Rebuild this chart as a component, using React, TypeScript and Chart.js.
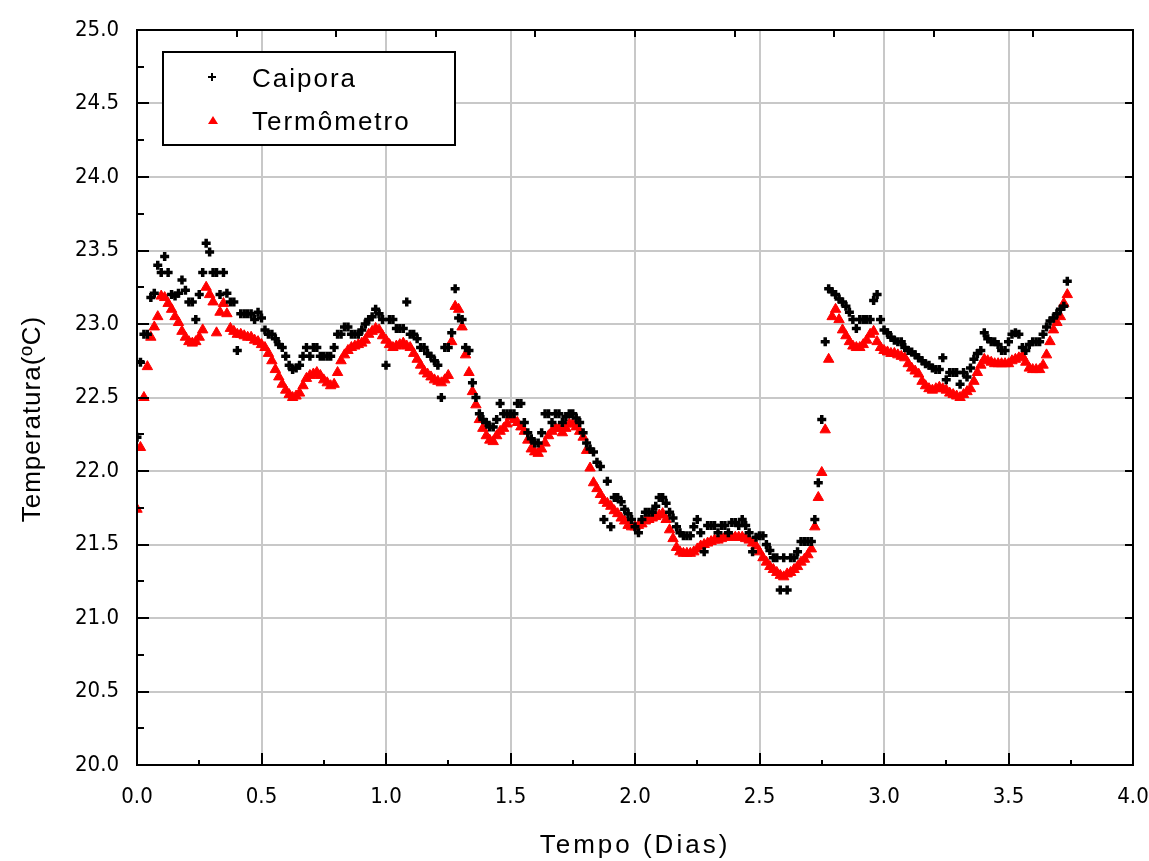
import { useEffect, useRef } from "react";
import { Chart, registerables } from "chart.js";

Chart.register(...registerables);

// Sampling interval of the data logger (20 minutes, in days)
const SAMPLE_STEP_DAYS = 1 / 72;

const SERIES_NAMES = ["Caipora", "Termômetro"];

const caipora = [
  22.23, 22.74, 22.93, 22.93, 23.18, 23.21, 23.40, 23.35, 23.46, 23.35,
  23.20, 23.19, 23.21, 23.30, 23.23, 23.15, 23.15, 23.03, 23.20, 23.35,
  23.55, 23.49, 23.35, 23.35, 23.20, 23.35, 23.21, 23.15, 23.15, 22.82,
  23.07, 23.07, 23.07, 23.07, 23.03, 23.08, 23.04, 22.96, 22.93, 22.93,
  22.90, 22.86, 22.84, 22.78, 22.72, 22.69, 22.70, 22.72, 22.78, 22.84,
  22.78, 22.84, 22.84, 22.78, 22.78, 22.78, 22.78, 22.84, 22.93, 22.93,
  22.98, 22.98, 22.93, 22.93, 22.93, 22.96, 23.00, 23.03, 23.05, 23.10,
  23.07, 23.03, 22.72, 23.03, 23.03, 22.97, 22.97, 22.97, 23.15, 22.93,
  22.93, 22.90, 22.84, 22.84, 22.80, 22.78, 22.75, 22.72, 22.50, 22.84,
  22.84, 22.94, 23.24, 23.04, 23.03, 22.84, 22.82, 22.60, 22.50, 22.39,
  22.35, 22.33, 22.30, 22.30, 22.35, 22.46, 22.39, 22.39, 22.39, 22.39,
  22.46, 22.46, 22.33, 22.26, 22.22, 22.19, 22.19, 22.26, 22.39, 22.39,
  22.33, 22.39, 22.39, 22.33, 22.37, 22.39, 22.39, 22.36, 22.33, 22.26,
  22.19, 22.15, 22.13, 22.06, 22.03, 21.67, 21.93, 21.62, 21.82, 21.82,
  21.79, 21.74, 21.71, 21.67, 21.62, 21.58, 21.67, 21.72, 21.72, 21.72,
  21.76, 21.82, 21.82, 21.78, 21.72, 21.68, 21.62, 21.58, 21.56, 21.56,
  21.56, 21.62, 21.67, 21.58, 21.45, 21.63, 21.63, 21.63, 21.58, 21.63,
  21.63, 21.58, 21.65, 21.65, 21.63, 21.67, 21.63, 21.58, 21.45, 21.55,
  21.56, 21.56, 21.50, 21.46, 21.41, 21.41, 21.19, 21.41, 21.19, 21.41,
  21.41, 21.45, 21.52, 21.52, 21.52, 21.52, 21.67, 21.92, 22.35, 22.88,
  23.24, 23.22, 23.20, 23.17, 23.15, 23.12, 23.08, 23.03, 22.97, 23.03,
  23.03, 23.03, 23.03, 23.16, 23.20, 23.03, 22.96, 22.94, 22.91, 22.89,
  22.88, 22.88, 22.84, 22.82, 22.81, 22.79, 22.77, 22.75, 22.73, 22.72,
  22.70, 22.69, 22.69, 22.77, 22.62, 22.67, 22.67, 22.67, 22.59, 22.67,
  22.64, 22.70, 22.76, 22.80, 22.82, 22.94, 22.90, 22.88, 22.88, 22.86,
  22.82, 22.82, 22.88, 22.93, 22.94, 22.93, 22.84, 22.82, 22.86, 22.88,
  22.88, 22.88, 22.93, 22.98, 23.02, 23.04, 23.07, 23.10, 23.12, 23.29,
];

const termometro = [
  21.74, 22.16, 22.50, 22.71, 22.91, 22.98, 23.05, 23.19, 23.18, 23.14,
  23.10, 23.05, 23.01, 22.95, 22.91, 22.88, 22.87, 22.88, 22.91, 22.96,
  23.25, 23.20, 23.15, 22.94, 23.08, 23.14, 23.07, 22.97, 22.95, 22.93,
  22.93, 22.92, 22.91, 22.91, 22.89, 22.88, 22.86, 22.84, 22.80, 22.75,
  22.69, 22.64, 22.59, 22.55, 22.52, 22.50, 22.51, 22.53, 22.58, 22.63,
  22.65, 22.66, 22.67, 22.65, 22.62, 22.60, 22.58, 22.59, 22.67, 22.75,
  22.79, 22.82, 22.84, 22.85, 22.86, 22.87, 22.89, 22.93, 22.95, 22.97,
  22.96, 22.92, 22.89, 22.86, 22.84, 22.85, 22.86, 22.87, 22.85, 22.84,
  22.80, 22.76, 22.72, 22.68, 22.66, 22.64, 22.62, 22.61, 22.60, 22.62,
  22.65, 22.88, 23.12, 23.10, 22.98, 22.79, 22.67, 22.54, 22.45, 22.35,
  22.29, 22.24, 22.21, 22.20, 22.24, 22.27, 22.29, 22.32, 22.37, 22.35,
  22.33, 22.30, 22.27, 22.21, 22.15, 22.13, 22.12, 22.15, 22.19, 22.24,
  22.27, 22.29, 22.29, 22.26, 22.29, 22.32, 22.32, 22.30, 22.27, 22.23,
  22.14, 22.02, 21.92, 21.88, 21.84, 21.80, 21.78, 21.76, 21.73, 21.71,
  21.68, 21.66, 21.63, 21.62, 21.62, 21.63, 21.64, 21.66, 21.67, 21.68,
  21.69, 21.70, 21.71, 21.67, 21.60, 21.54, 21.48, 21.45, 21.44, 21.44,
  21.44, 21.45, 21.47, 21.49, 21.50, 21.51, 21.52, 21.53, 21.53, 21.54,
  21.55, 21.55, 21.55, 21.55, 21.55, 21.55, 21.54, 21.53, 21.51, 21.49,
  21.45, 21.41, 21.38, 21.35, 21.33, 21.31, 21.29, 21.28, 21.30, 21.31,
  21.33, 21.35, 21.38, 21.40, 21.43, 21.47, 21.62, 21.82, 21.99, 22.28,
  22.76, 23.05, 23.10, 23.03, 22.96, 22.92, 22.88, 22.85, 22.84, 22.84,
  22.86, 22.89, 22.93, 22.95, 22.88, 22.84, 22.82, 22.81, 22.80, 22.80,
  22.79, 22.78, 22.77, 22.73, 22.70, 22.68, 22.66, 22.61, 22.58, 22.56,
  22.55, 22.56, 22.57, 22.56, 22.55, 22.53, 22.52, 22.51, 22.50, 22.52,
  22.54, 22.56, 22.61, 22.67, 22.72, 22.76, 22.75, 22.74, 22.73, 22.73,
  22.73, 22.73, 22.73, 22.75, 22.76, 22.77, 22.78, 22.74, 22.70, 22.69,
  22.69, 22.69, 22.72, 22.79, 22.88, 22.96, 23.01, 23.05, 23.14, 23.20,
];

const X_MIN = 0;
const X_MAX = 4;
const X_STEP = 0.5;
const X_MINOR_STEP = 0.25;
const X_TOP_STEP = 0.4;
const Y_MIN = 20;
const Y_MAX = 25;
const Y_STEP = 0.5;
const Y_MINOR_STEP = 0.25;

const X_TITLE = "Tempo (Dias)";
const Y_TITLE = "Temperatura(ºC)";

const FONT_FAMILY = '"Liberation Sans Narrow", "DejaVu Sans Condensed", "Liberation Sans", Arial, sans-serif';
const TEXT_FONT = '"Liberation Sans", Arial, sans-serif';

const toPoints = (values: number[]) =>
  values.map((v, i) => ({ x: i * SAMPLE_STEP_DAYS, y: v }));

const framePlugin = {
  id: "framePlugin",
  afterDraw(chart: any) {
    const ctx: CanvasRenderingContext2D = chart.ctx;
    const { left, right, top, bottom } = chart.chartArea;
    const xs = chart.scales.x;
    const ys = chart.scales.y;
    ctx.save();
    ctx.strokeStyle = "#000";
    ctx.lineWidth = 2;
    ctx.beginPath();
    // bottom ticks (inward)
    for (let k = 0; k <= (X_MAX - X_MIN) / X_MINOR_STEP + 1e-6; k++) {
      const v = X_MIN + k * X_MINOR_STEP;
      const px = Math.round(xs.getPixelForValue(v));
      const len = k % 2 === 0 ? 12 : 5;
      ctx.moveTo(px, bottom);
      ctx.lineTo(px, bottom - len);
    }
    // top ticks
    for (let k = 1; k * X_TOP_STEP < X_MAX - 1e-6; k++) {
      const px = Math.round(xs.getPixelForValue(X_MIN + k * X_TOP_STEP));
      ctx.moveTo(px, top);
      ctx.lineTo(px, top + 7);
    }
    // left ticks
    for (let k = 0; k <= (Y_MAX - Y_MIN) / Y_MINOR_STEP + 1e-6; k++) {
      const v = Y_MIN + k * Y_MINOR_STEP;
      const py = Math.round(ys.getPixelForValue(v));
      const len = k % 2 === 0 ? 12 : 7;
      ctx.moveTo(left, py);
      ctx.lineTo(left + len, py);
    }
    // right ticks
    for (let k = 0; k <= (Y_MAX - Y_MIN) / Y_STEP + 1e-6; k++) {
      const py = Math.round(ys.getPixelForValue(Y_MIN + k * Y_STEP));
      ctx.moveTo(right, py);
      ctx.lineTo(right - 8, py);
    }
    ctx.stroke();
    ctx.strokeRect(left, top, right - left, bottom - top);

    // legend
    const lx = left + 26;
    const ly = top + 22;
    const lw = 292;
    const lh = 93;
    ctx.fillStyle = "#fff";
    ctx.fillRect(lx, ly, lw, lh);
    ctx.strokeRect(lx, ly, lw, lh);
    // plus marker
    ctx.beginPath();
    ctx.lineWidth = 2;
    ctx.moveTo(lx + 45, ly + 25);
    ctx.lineTo(lx + 53, ly + 25);
    ctx.moveTo(lx + 49, ly + 21);
    ctx.lineTo(lx + 49, ly + 29);
    ctx.stroke();
    // triangle marker
    ctx.fillStyle = "#ff0000";
    ctx.beginPath();
    ctx.moveTo(lx + 50, ly + 64);
    ctx.lineTo(lx + 55, ly + 72);
    ctx.lineTo(lx + 45, ly + 72);
    ctx.closePath();
    ctx.fill();
    ctx.fillStyle = "#000";
    ctx.font = `26px ${TEXT_FONT}`;
    (ctx as any).letterSpacing = "2px";
    ctx.textAlign = "left";
    ctx.textBaseline = "alphabetic";
    ctx.fillText(SERIES_NAMES[0], lx + 89, ly + 35);
    ctx.fillText(SERIES_NAMES[1], lx + 89, ly + 78);

    // axis titles
    ctx.font = `26px ${TEXT_FONT}`;
    (ctx as any).letterSpacing = "3px";
    ctx.textAlign = "center";
    ctx.textBaseline = "middle";
    ctx.fillText(X_TITLE, 635, 846);
    ctx.save();
    ctx.translate(33, 419);
    ctx.rotate(-Math.PI / 2);
    (ctx as any).letterSpacing = "1px";
    ctx.fillText(Y_TITLE, 0, 0);
    ctx.restore();
    ctx.restore();
  },
};

export default function App() {
  const canvasRef = useRef<HTMLCanvasElement | null>(null);

  useEffect(() => {
    if (!canvasRef.current) return;
    const chart = new Chart(canvasRef.current, {
      type: "scatter",
      data: {
        datasets: [
          {
            label: SERIES_NAMES[0],
            data: toPoints(caipora),
            pointStyle: "cross",
            pointRadius: 4.5,
            pointBorderWidth: 3.5,
            borderColor: "#000",
            backgroundColor: "#000",
            showLine: false,
          },
          {
            label: SERIES_NAMES[1],
            data: toPoints(termometro),
            pointStyle: "triangle",
            pointRadius: 6,
            pointBorderWidth: 1,
            borderColor: "#ff0000",
            backgroundColor: "#ff0000",
            showLine: false,
          },
        ],
      },
      options: {
        animation: false,
        responsive: false,
        devicePixelRatio: 1,
        layout: { padding: { top: 30, right: 16, left: 0, bottom: 0 } },
        plugins: {
          legend: { display: false },
          tooltip: { enabled: false },
        },
        scales: {
          x: {
            type: "linear",
            min: X_MIN,
            max: X_MAX,
            ticks: {
              stepSize: X_STEP,
              color: "#000",
              font: { family: FONT_FAMILY, size: 22 },
              padding: 19,
              maxRotation: 0,
              callback: (v: any) => Number(v).toFixed(1),
            },
            grid: { color: "#c8c8c8", lineWidth: 2, drawTicks: false },
            border: { display: false },
            afterFit: (scale: any) => {
              scale.height = 96;
              scale.paddingLeft = 0;
              scale.paddingRight = 0;
            },
          },
          y: {
            type: "linear",
            min: Y_MIN,
            max: Y_MAX,
            ticks: {
              stepSize: Y_STEP,
              color: "#000",
              font: { family: FONT_FAMILY, size: 22 },
              padding: 18,
              callback: (v: any) => Number(v).toFixed(1),
            },
            grid: { color: "#c8c8c8", lineWidth: 2, drawTicks: false },
            border: { display: false },
            afterFit: (scale: any) => {
              scale.width = 137;
              scale.paddingTop = 0;
              scale.paddingBottom = 0;
            },
          },
        },
      },
      plugins: [framePlugin],
    });
    return () => chart.destroy();
  }, []);

  return (
    <div style={{ position: "fixed", left: 0, top: 0, width: 1149, height: 861, background: "#fff" }}>
      <canvas ref={canvasRef} width={1149} height={861} />
    </div>
  );
}
